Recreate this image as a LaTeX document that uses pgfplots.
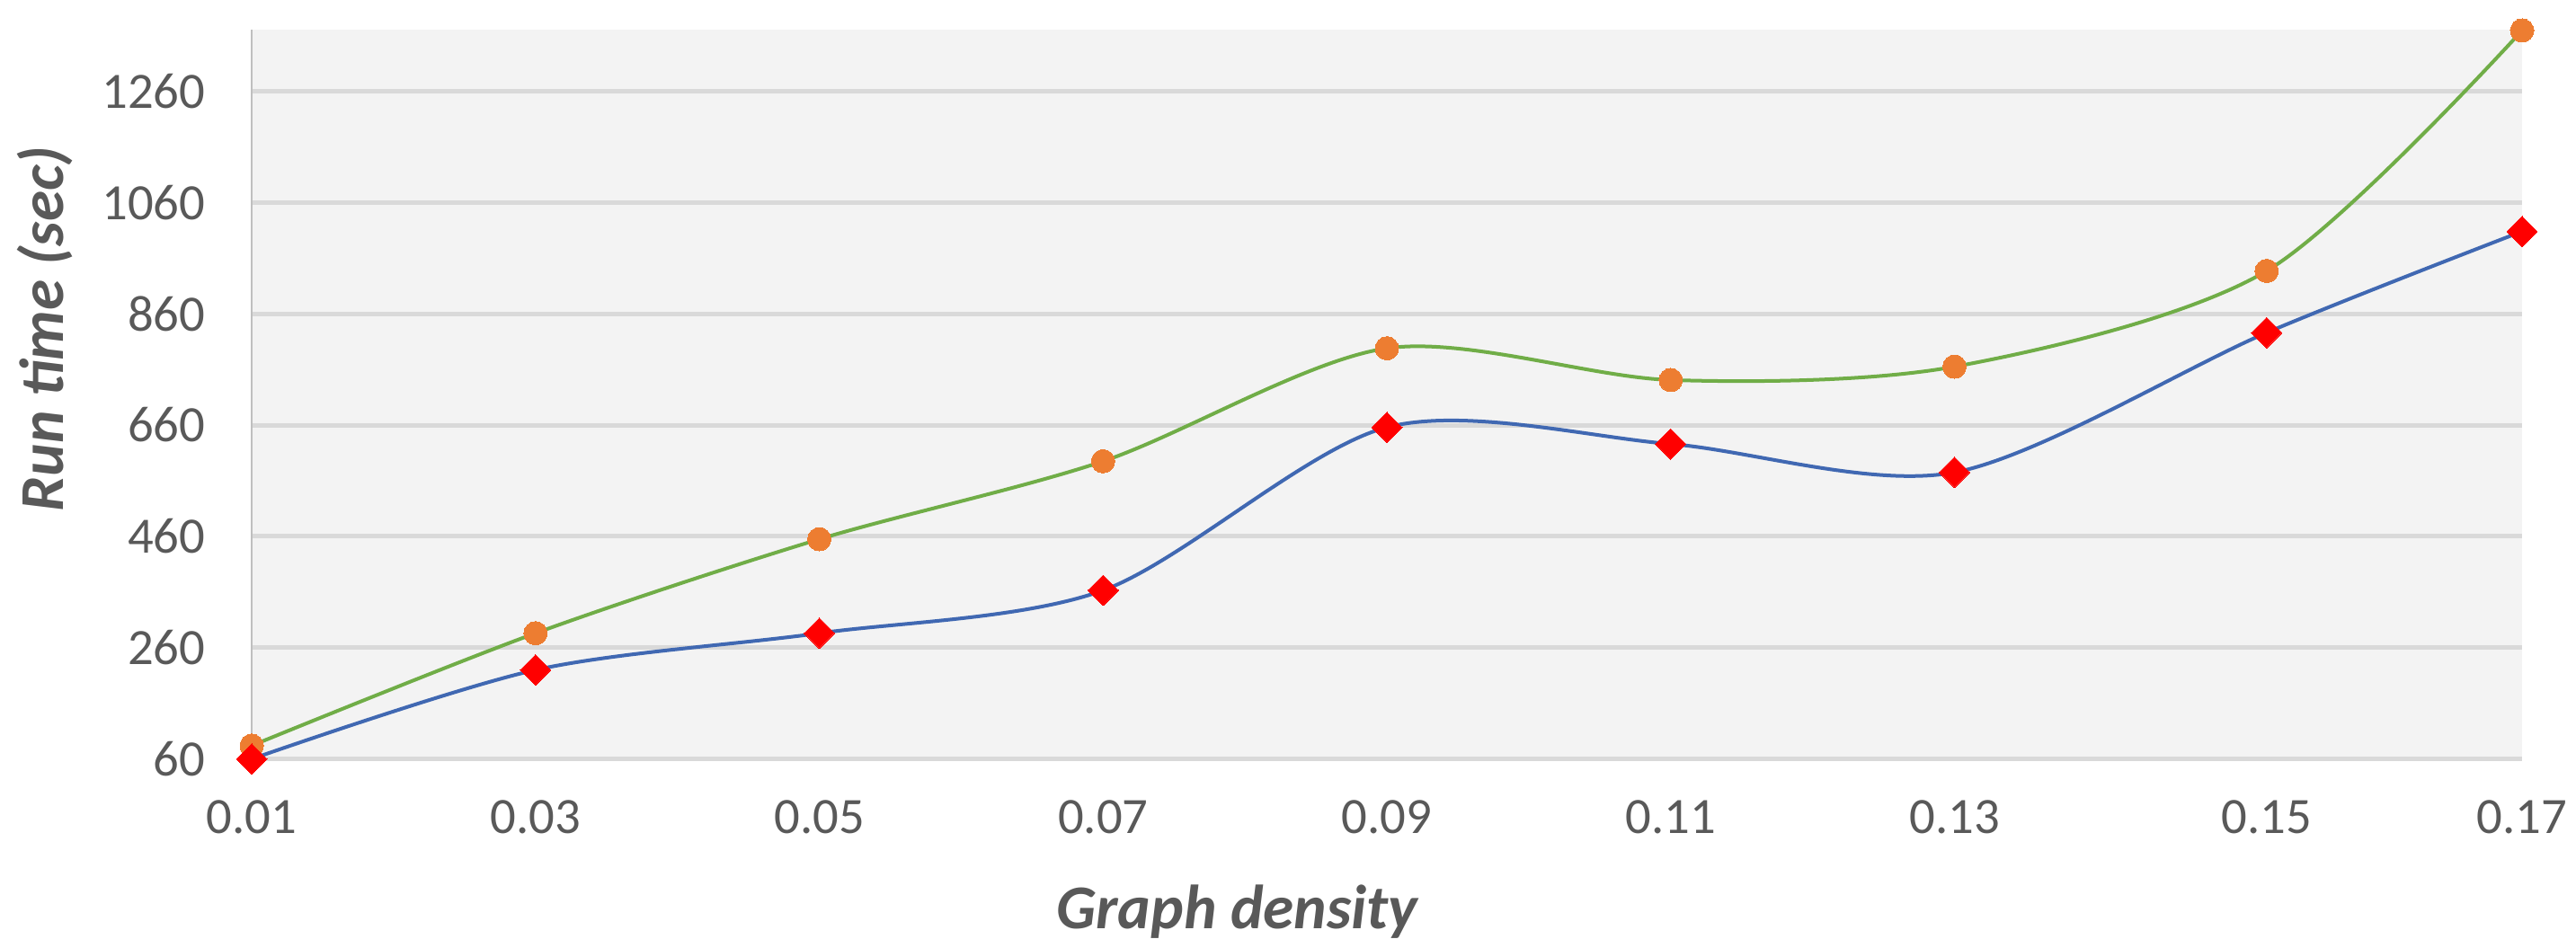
\documentclass[border=0pt]{standalone}
\usepackage{pgfplots}
\pgfplotsset{compat=1.18}
\usepackage{fontspec}
\setmainfont{Carlito}
\definecolor{txt}{HTML}{595959}
\definecolor{grid}{HTML}{D9D9D9}
\definecolor{bg}{HTML}{F3F3F3}
\definecolor{blueL}{HTML}{4068B2}
\definecolor{greenL}{HTML}{70AD47}
\definecolor{orangeM}{HTML}{ED7D31}
\begin{document}
\begin{tikzpicture}
\path[use as bounding box] (-84pt,-63pt) rectangle (775.5pt,253.3pt);
\begin{axis}[
  at={(0,0)}, anchor=south west,
  scale only axis, width=757.5pt, height=243.3pt,
  xmin=0.01, xmax=0.17, ymin=60, ymax=1370,
  xtick={0.01,0.03,0.05,0.07,0.09,0.11,0.13,0.152,0.17},
  xticklabels={0.01,0.03,0.05,0.07,0.09,0.11,0.13,0.15,0.17},
  ytick={60,260,460,660,860,1060,1260},
  /pgf/number format/assume math mode=true,
  /pgf/number format/1000 sep={},
  scaled ticks=false,
  major tick length=0pt,
  axis lines*=left,
  x axis line style={draw=grid, line width=1pt},
  y axis line style={draw=black!25, line width=0.6pt},
  axis background/.style={fill=bg},
  ymajorgrids, grid style={draw=grid, line width=1.5pt},
  ticklabel style={font=\fontsize{17}{19}\selectfont, text=txt},
  yticklabel style={anchor=east, xshift=-12pt},
  xticklabel style={anchor=center, yshift=-19.5pt},
  xlabel={Graph density},
  ylabel={Run time (sec)},
  label style={font=\fontsize{20.8}{24}\selectfont\bfseries\itshape, text=txt},
  xlabel style={at={(axis description cs:0.434,0)}, anchor=center, yshift=-51pt},
  ylabel style={at={(axis description cs:-0.0911,0.59)}, anchor=center},
  clip=false,
]
\addplot[smooth, color=greenL, line width=1.2pt, mark=*, mark size=3.9pt, mark options={fill=orangeM, draw=orangeM, line width=0pt}]
 coordinates {(0.01,84) (0.03,286) (0.05,455) (0.07,595) (0.09,798) (0.11,741) (0.13,765) (0.152,937) (0.17,1369)};
\addplot[smooth, color=blueL, line width=1.2pt, mark=square*, mark size=3.6pt, mark options={rotate=45, fill=red, draw=red, line width=0pt}]
 coordinates {(0.01,60) (0.03,220) (0.05,286) (0.07,363) (0.09,656) (0.11,626) (0.13,575) (0.152,826) (0.17,1008)};
\end{axis}
\end{tikzpicture}
\end{document}
